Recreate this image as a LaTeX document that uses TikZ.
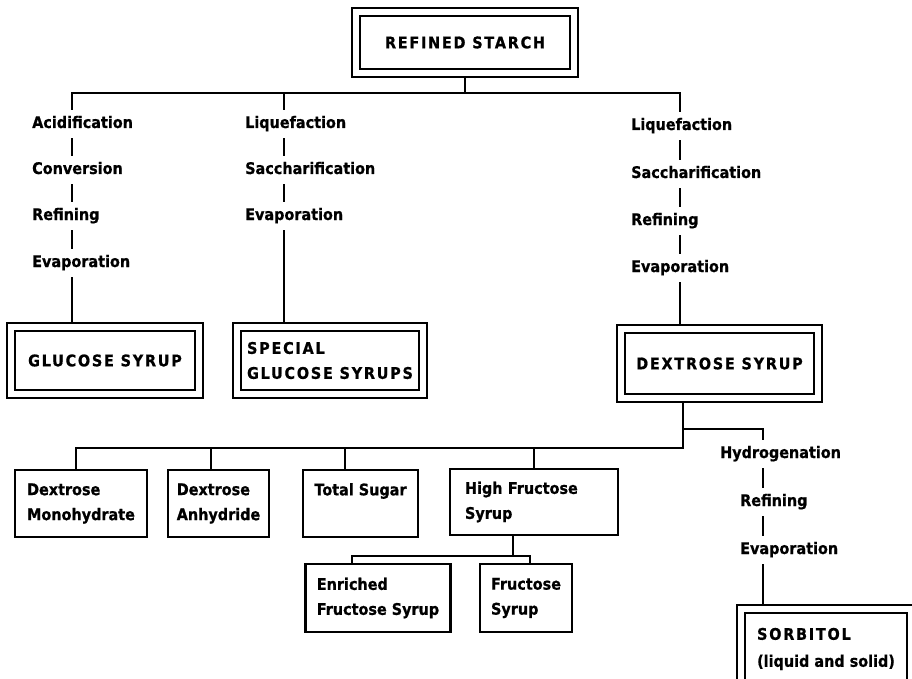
\documentclass[tikz,border=0pt]{standalone}
\usepackage{fontspec}
\newfontfamily\labf[FakeStretch=0.9,FakeBold=0.8]{DejaVu Sans}
\newfontfamily\capsf[FakeStretch=0.9,FakeBold=0.8,LetterSpace=11]{DejaVu Sans}
\begin{document}
\begin{tikzpicture}[x=1pt,y=-1pt,
  lab/.style={anchor=base west, inner xsep=0pt, inner ysep=7pt, text height=11pt, text depth=3pt,
    font=\fontsize{16}{26}\selectfont\bfseries\labf},
  dbox/.style={draw, line width=2.3pt, double=white, double distance=6pt, inner sep=0pt,
    font=\fontsize{16}{25}\selectfont\bfseries\capsf},
  bbox/.style={draw, line width=2.5pt, inner sep=0pt, align=left,
    font=\fontsize{16}{25}\selectfont\bfseries\labf},
  conn/.style={line width=2pt}]
\useasboundingbox (0,0) rectangle (912,679);
\fill[white] (0,0) rectangle (912,679);

% top box
\node[dbox, minimum width=218pt, minimum height=61pt] (rs) at (465,42.5) {REFINED STARCH};

% column labels
\node[lab] (a1) at (32,128) {Acidification};
\node[lab] (a2) at (32,174) {Conversion};
\node[lab] (a3) at (32,220) {Refining};
\node[lab] (a4) at (32,267) {Evaporation};
\node[lab] (m1) at (245,128) {Liquefaction};
\node[lab] (m2) at (245,174) {Saccharification};
\node[lab] (m3) at (245,220) {Evaporation};
\node[lab] (r1) at (631,130) {Liquefaction};
\node[lab] (r2) at (631,178) {Saccharification};
\node[lab] (r3) at (631,225) {Refining};
\node[lab] (r4) at (631,272) {Evaporation};

% product boxes
\node[dbox, minimum width=188pt, minimum height=67pt, xshift=0pt] (gs) at (105,360.5) {GLUCOSE SYRUP};
\node[dbox, minimum width=186pt, minimum height=67pt, align=left] (sg) at (330,360.5) {SPECIAL\\GLUCOSE SYRUPS};
\node[dbox, minimum width=197pt, minimum height=69pt] (ds) at (719.5,363.5) {DEXTROSE SYRUP};

% bottom boxes
\node[bbox, minimum width=132pt, minimum height=67pt] (b1) at (81,503.5) {Dextrose\\Monohydrate};
\node[bbox, minimum width=101pt, minimum height=67pt] (b2) at (218.5,503.5) {Dextrose\\Anhydride};
\node[bbox, minimum width=115pt, minimum height=67pt] (b3) at (360.5,503.5) {Total Sugar\\\phantom{Syrup}};
\node[bbox, minimum width=168pt, minimum height=66pt, text width=138pt] (b4) at (534,502) {High Fructose\\Syrup};
\node[bbox, minimum width=145pt, minimum height=68pt] (e1) at (378,598) {Enriched\\Fructose Syrup};
\node[bbox, minimum width=92pt, minimum height=68pt] (f1) at (526,598) {Fructose\\Syrup};

% sorbitol branch
\node[lab] (h1) at (720,458) {Hydrogenation};
\node[lab] (h2) at (740,506) {Refining};
\node[lab] (h3) at (740,554) {Evaporation};
\node[dbox, minimum width=170pt, minimum height=80pt, align=left,
  font=\fontsize{16}{27}\selectfont\bfseries\labf] (so) at (826,649) {{\capsf SORBITOL}\\(liquid and solid)};

% coordinates
\coordinate (cL) at (72,93);
\coordinate (cM) at (284,93);
\coordinate (cR) at (680,93);
\coordinate (sx) at (683,448);
\coordinate (bl) at (76,448);
\coordinate (v2) at (211,448);
\coordinate (v3) at (345,448);
\coordinate (v4) at (534,448);
\coordinate (hj) at (683,429);
\coordinate (cH) at (763,429);
\coordinate (fj) at (513,556);
\coordinate (fl) at (352,556);
\coordinate (fr) at (530,556);

% top connectors
\draw[conn] ([yshift=-4pt]rs.south) -- (rs.south |- cM);
\draw[conn] (a1.north -| cL) -- (cL) -- (cR) -- (r1.north -| cR);
\draw[conn] (cM) -- (m1.north -| cM);
\draw[conn] (a1.south -| cL) -- (a2.north -| cL);
\draw[conn] (a2.south -| cL) -- (a3.north -| cL);
\draw[conn] (a3.south -| cL) -- (a4.north -| cL);
\draw[conn] (a4.south -| cL) -- ([yshift=4pt]gs.north -| cL);
\draw[conn] (m1.south -| cM) -- (m2.north -| cM);
\draw[conn] (m2.south -| cM) -- (m3.north -| cM);
\draw[conn] (m3.south -| cM) -- ([yshift=4pt]sg.north -| cM);
\draw[conn] (r1.south -| cR) -- (r2.north -| cR);
\draw[conn] (r2.south -| cR) -- (r3.north -| cR);
\draw[conn] (r3.south -| cR) -- (r4.north -| cR);
\draw[conn] (r4.south -| cR) -- ([yshift=4pt]ds.north -| cR);

% dextrose connectors
\draw[conn] ([yshift=-4pt]ds.south -| sx) -- (sx) -- (bl) -- (b1.north -| bl);
\draw[conn] (v2) -- (v2 |- b2.north);
\draw[conn] (v3) -- (v3 |- b3.north);
\draw[conn] (v4) -- (b4.north);
\draw[conn] (hj) -- (cH) -- (h1.north -| cH);
\draw[conn] (h1.south -| cH) -- (h2.north -| cH);
\draw[conn] (h2.south -| cH) -- (h3.north -| cH);
\draw[conn] (h3.south -| cH) -- ([yshift=4pt]so.north -| cH);

% fructose connectors
\draw[conn] (b4.south -| fj) -- (fj);
\draw[conn] (fl |- e1.north) -- (fl) -- (fr) -- (fr |- f1.north);
\end{tikzpicture}
\end{document}
